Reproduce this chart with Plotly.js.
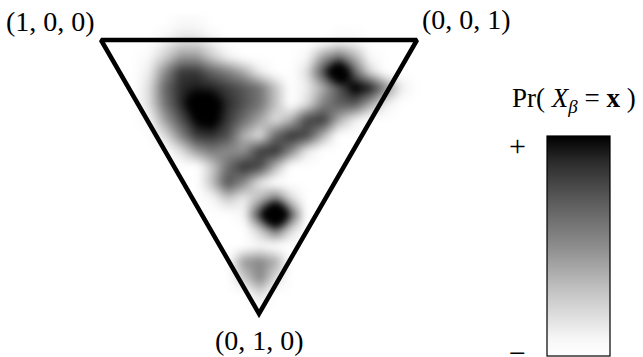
<!DOCTYPE html>
<html>
<head>
<meta charset="utf-8">
<script src="https://cdn.plot.ly/plotly-3.0.1.min.js"></script>
<style>
  html, body { margin: 0; padding: 0; background: #ffffff; }
  #chart { width: 643px; height: 357px; }
</style>
</head>
<body>
<div id="chart"></div>
<script>
// Simplex corners (barycentric) and their labels
const VERTICES = [[1, 0, 0], [0, 0, 1], [0, 1, 0]];
const VERTEX_LABELS = ['(1, 0, 0)', '(0, 0, 1)', '(0, 1, 0)'];

// Density grid in planar simplex coordinates (u across, v down)
const U_GRID = [-0.05, 0.00, 0.05, 0.10, 0.15, 0.20, 0.25, 0.30, 0.35, 0.40, 0.45, 0.50,
                0.55, 0.60, 0.65, 0.70, 0.75, 0.80, 0.85, 0.90, 0.95, 1.00, 1.05];
const V_GRID = [-0.05, 0.00, 0.05, 0.10, 0.15, 0.20, 0.25, 0.30, 0.35, 0.40,
                0.45, 0.50, 0.55, 0.60, 0.65, 0.70, 0.75, 0.80, 0.85, 0.90];

// Probability mass Pr(X_beta = x), one row per V_GRID entry (0 = least, 100 = most)
const DENSITY = [
  [0, 0, 0, 0, 0,  0,  5,  5,  0,  0,  0,  0,  0,  0,  0,  0,  0,  0,  0,  0,  0, 0, 0],
  [0, 0, 0, 0, 0,  8, 15, 15,  8,  0,  0,  0,  0,  0,  0,  0,  5,  5,  0,  0,  0, 0, 0],
  [0, 0, 0, 0, 5, 20, 38, 38, 22,  8,  0,  0,  0,  0,  5, 35, 50, 30,  5,  0,  0, 0, 0],
  [0, 0, 0, 0,10, 42, 70, 70, 56, 46, 32, 10,  0,  0, 15, 62,125, 55, 18,  0,  0, 0, 0],
  [0, 0, 0, 0,15, 54, 74, 78, 76, 68, 60, 50, 25,  0, 10, 32, 60, 88, 78, 42, 10, 0, 0],
  [0, 0, 0, 0,15, 50, 74, 96, 92, 74, 62, 50, 25,  0, 15, 45, 58, 60, 35, 10,  0, 0, 0],
  [0, 0, 0, 0, 5, 36, 62, 85, 90, 70, 52, 34, 15, 30, 65, 70, 32, 10,  0,  0,  0, 0, 0],
  [0, 0, 0, 0, 0, 15, 44, 70, 72, 62, 30, 15, 55, 72, 65, 30,  0,  0,  0,  0,  0, 0, 0],
  [0, 0, 0, 0, 0,  0, 15, 38, 48, 42, 40, 68, 72, 45, 12,  0,  0,  0,  0,  0,  0, 0, 0],
  [0, 0, 0, 0, 0,  0,  0,  0, 22, 52, 72, 65, 28,  0,  0,  0,  0,  0,  0,  0,  0, 0, 0],
  [0, 0, 0, 0, 0,  0,  0,  0, 25, 62, 42, 12,  0,  0,  0,  0,  0,  0,  0,  0,  0, 0, 0],
  [0, 0, 0, 0, 0,  0,  0,  0,  5, 22, 10, 28, 50, 18,  0,  0,  0,  0,  0,  0,  0, 0, 0],
  [0, 0, 0, 0, 0,  0,  0,  0,  0,  0,  6, 70,170, 60,  0,  0,  0,  0,  0,  0,  0, 0, 0],
  [0, 0, 0, 0, 0,  0,  0,  0,  0,  0,  0, 22, 55, 18,  0,  0,  0,  0,  0,  0,  0, 0, 0],
  [0, 0, 0, 0, 0,  0,  0,  0,  0,  0,  0,  5,  0,  0,  0,  0,  0,  0,  0,  0,  0, 0, 0],
  [0, 0, 0, 0, 0,  0,  0,  0,  0,  0, 38, 44, 32,  0,  0,  0,  0,  0,  0,  0,  0, 0, 0],
  [0, 0, 0, 0, 0,  0,  0,  0,  0,  0, 22, 44, 16,  0,  0,  0,  0,  0,  0,  0,  0, 0, 0],
  [0, 0, 0, 0, 0,  0,  0,  0,  0,  0,  0, 16,  0,  0,  0,  0,  0,  0,  0,  0,  0, 0, 0],
  [0, 0, 0, 0, 0,  0,  0,  0,  0,  0,  0,  0,  0,  0,  0,  0,  0,  0,  0,  0,  0, 0, 0],
  [0, 0, 0, 0, 0,  0,  0,  0,  0,  0,  0,  0,  0,  0,  0,  0,  0,  0,  0,  0,  0, 0, 0]
];

const COLORBAR_TITLE = 'Pr( <i>X</i><sub><i>β</i></sub> = <b>x</b> )';
const COLORBAR_ENDS = ['+', '\u2212'];

// Barycentric (a, b, c) -> planar (u, v); (1,0,0) top-left, (0,0,1) top-right, (0,1,0) bottom
function project(p) {
  return [p[2] + 0.5 * p[1], Math.sqrt(3) / 2 * p[1]];
}

const corners = VERTICES.map(project);
const frameU = corners.map(c => c[0]).concat([corners[0][0], corners[1][0]]);
const frameV = corners.map(c => c[1]).concat([corners[0][1], corners[1][1]]);

const GREYS = [
  [0.00, '#ffffff'],
  [0.08, '#f6f6f6'],
  [0.30, '#c2c2c2'],
  [0.50, '#8c8c8c'],
  [0.70, '#5c5c5c'],
  [0.88, '#2c2c2c'],
  [1.00, '#000000']
];

const serif = { family: 'Liberation Serif, Times New Roman, serif', color: '#000000' };

const traces = [
  {
    type: 'heatmap',
    x: U_GRID,
    y: V_GRID,
    z: DENSITY,
    zmin: 0,
    zmax: 84,
    zsmooth: 'best',
    colorscale: GREYS,
    hoverinfo: 'skip',
    showscale: true,
    colorbar: {
      x: 547 / 643, xanchor: 'left', xpad: 0,
      y: 1 / 357, yanchor: 'bottom', ypad: 0,
      len: 220 / 357, lenmode: 'fraction',
      thickness: 63, thicknessmode: 'pixels',
      outlinewidth: 1.2, outlinecolor: '#000000',
      showticklabels: false, ticks: ''
    }
  },
  {
    type: 'scatter',
    mode: 'lines',
    x: frameU,
    y: frameV,
    line: { color: '#000000', width: 4.5 },
    hoverinfo: 'skip',
    showlegend: false
  }
];

const labelOffsets = [[-51, 19], [49, 21], [0, -27]];
const annotations = VERTICES.map((p, i) => ({
  x: corners[i][0], y: corners[i][1], xref: 'x', yref: 'y',
  xanchor: 'center', yanchor: 'middle',
  text: VERTEX_LABELS[i], showarrow: false,
  xshift: labelOffsets[i][0], yshift: labelOffsets[i][1],
  font: Object.assign({ size: 28 }, serif)
}));
annotations.push(
  { x: 574 / 643, y: 1 - 100 / 357, xref: 'paper', yref: 'paper', xanchor: 'center', yanchor: 'middle',
    text: COLORBAR_TITLE, showarrow: false, font: Object.assign({ size: 27 }, serif) },
  { x: 517 / 643, y: 1 - 145 / 357, xref: 'paper', yref: 'paper', xanchor: 'center', yanchor: 'middle',
    text: COLORBAR_ENDS[0], showarrow: false, font: Object.assign({ size: 30 }, serif) },
  { x: 517 / 643, y: 1 - 352 / 357, xref: 'paper', yref: 'paper', xanchor: 'center', yanchor: 'middle',
    text: COLORBAR_ENDS[1], showarrow: false, font: Object.assign({ size: 30 }, serif) }
);

const layout = {
  width: 643,
  height: 357,
  margin: { l: 0, r: 0, t: 0, b: 0, pad: 0 },
  paper_bgcolor: '#ffffff',
  plot_bgcolor: '#ffffff',
  showlegend: false,
  xaxis: { range: [-101 / 316, 542 / 316], visible: false, fixedrange: true },
  yaxis: { range: [317 / 316, -40 / 316], visible: false, fixedrange: true },
  annotations: annotations
};

const SVG_NS = 'http://www.w3.org/2000/svg';

// Gentle Gaussian softening of the density image through an SVG filter
function softenDensity(gd) {
  const svg = gd.querySelector('svg.main-svg');
  let defs = svg.querySelector('defs');
  if (!defs) { defs = document.createElementNS(SVG_NS, 'defs'); svg.insertBefore(defs, svg.firstChild); }
  const filter = document.createElementNS(SVG_NS, 'filter');
  filter.setAttribute('id', 'density-soften');
  filter.setAttribute('x', '-20%');
  filter.setAttribute('y', '-20%');
  filter.setAttribute('width', '140%');
  filter.setAttribute('height', '140%');
  filter.setAttribute('color-interpolation-filters', 'sRGB');
  const blur = document.createElementNS(SVG_NS, 'feGaussianBlur');
  blur.setAttribute('stdDeviation', '3');
  filter.appendChild(blur);
  defs.appendChild(filter);
  gd.querySelectorAll('.hm image').forEach(img => img.setAttribute('filter', 'url(#density-soften)'));
}

Plotly.newPlot('chart', traces, layout, { displayModeBar: false, staticPlot: true })
  .then(gd => softenDensity(gd));
</script>
</body>
</html>
